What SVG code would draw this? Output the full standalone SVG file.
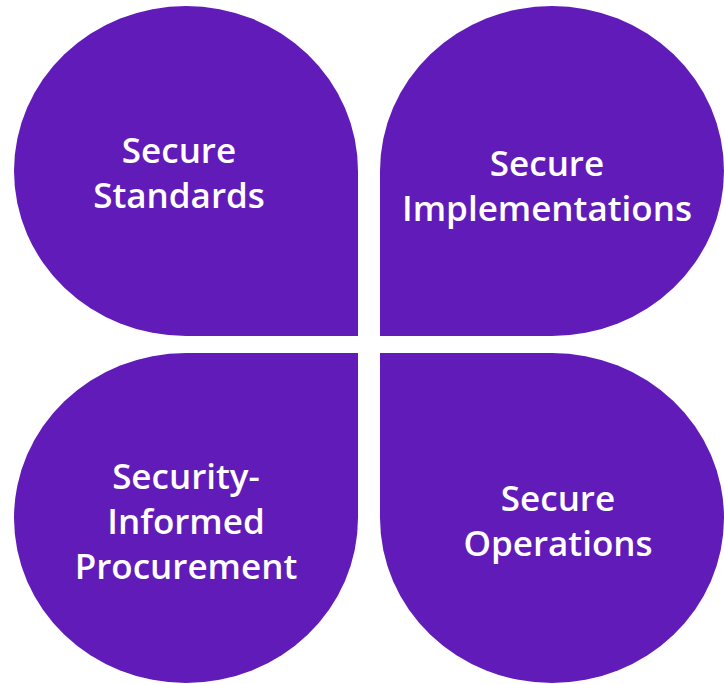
<svg xmlns="http://www.w3.org/2000/svg" width="724" height="684" viewBox="0 0 724 684">
<style>
.leaf{fill:#611bb8}
.lbl{fill:#ffffff;font-family:"Open Sans","Liberation Sans",sans-serif;font-weight:600;font-size:35px;text-anchor:middle}
</style>
<rect width="724" height="684" fill="#ffffff"/>
<g id="secure-standards">
<path class="leaf" d="M358 336 L186 336 A172 165 0 0 1 14 171 A172 165 0 0 1 186 6 A172 165 0 0 1 358 171 Z"/>
<text class="lbl" x="179" y="163">Secure</text>
<text class="lbl" x="179" y="208">Standards</text>
</g>
<g id="secure-implementations">
<path class="leaf" d="M380 336 L380 171 A172 165 0 0 1 552 6 A172 165 0 0 1 724 171 A172 165 0 0 1 552 336 Z"/>
<text class="lbl" x="547" y="176">Secure</text>
<text class="lbl" x="547" y="221">Implementations</text>
</g>
<g id="security-informed-procurement">
<path class="leaf" d="M358 353 L358 518 A172 165 0 0 1 186 683 A172 165 0 0 1 14 518 A172 165 0 0 1 186 353 Z"/>
<text class="lbl" x="186" y="489">Security-</text>
<text class="lbl" x="186" y="534">Informed</text>
<text class="lbl" x="186" y="579">Procurement</text>
</g>
<g id="secure-operations">
<path class="leaf" d="M380 353 L552 353 A172 165 0 0 1 724 518 A172 165 0 0 1 552 683 A172 165 0 0 1 380 518 Z"/>
<text class="lbl" x="558" y="511">Secure</text>
<text class="lbl" x="558" y="556">Operations</text>
</g>
<g id="connectors"/>
</svg>
